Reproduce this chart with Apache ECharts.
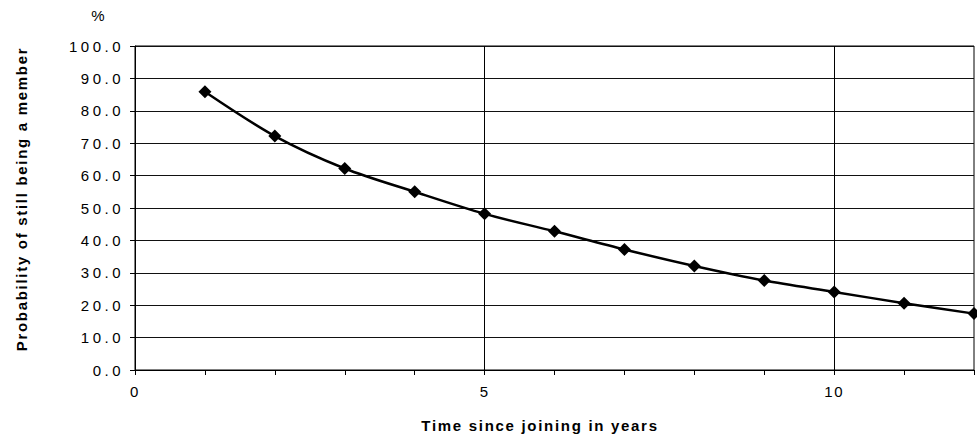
<!DOCTYPE html>
<html>
<head>
<meta charset="utf-8">
<script src="https://cdn.jsdelivr.net/npm/echarts@6/dist/echarts.min.js"></script>
<style>html,body{margin:0;padding:0;background:#fff}#c{width:977px;height:443px}</style>
</head>
<body>
<div id="c"></div>
<script>
const years = [1, 2, 3, 4, 5, 6, 7, 8, 9, 10, 11, 12];
const probability = [85.9, 72.2, 62.2, 55.0, 48.2, 42.8, 37.2, 32.1, 27.6, 24.1, 20.6, 17.4];
const xGridValues = [5, 10];
const xTitle = 'Time since joining in years';
const yTitle = 'Probability of still being a member';
const unitLabel = '%';

const font = 'Arial, "Liberation Sans", sans-serif';
const chart = echarts.init(document.getElementById('c'), null, {renderer: 'svg'});
chart.setOption({
  backgroundColor: '#fff',
  animation: false,
  grid: {left: 135, top: 46, right: 1, bottom: 73, show: true, borderColor: '#000', borderWidth: 1},
  xAxis: {
    type: 'value', min: 0, max: 12, interval: 1,
    axisLine: {show: true, onZero: false, lineStyle: {color: '#000', width: 1}},
    axisTick: {show: true, length: 5, inside: false, lineStyle: {color: '#000'}},
    splitLine: {show: false},
    axisLabel: {
      margin: 14, color: '#000', fontFamily: font, fontSize: 15,
      formatter: v => (v % 5 === 0 ? String(v) : '')
    }
  },
  yAxis: {
    type: 'value', min: 0, max: 100, interval: 10,
    axisLine: {show: true, lineStyle: {color: '#000', width: 1}},
    axisTick: {show: true, length: 5, lineStyle: {color: '#000'}},
    splitLine: {show: true, lineStyle: {color: '#111', width: 1}},
    axisLabel: {margin: 11, color: '#000', fontFamily: font, fontSize: 15, formatter: v => v.toFixed(1)}
  },
  series: [{
    type: 'line',
    data: years.map((y, i) => [y, probability[i]]),
    smooth: 0.3,
    symbol: 'diamond',
    symbolSize: 13,
    itemStyle: {color: '#000'},
    lineStyle: {color: '#000', width: 2.5},
    markLine: {
      silent: true, symbol: 'none', label: {show: false},
      lineStyle: {color: '#000', width: 1, type: 'solid'},
      data: xGridValues.map(v => ({xAxis: v}))
    },
    z: 5
  }],
  graphic: [
    {type: 'text', x: 98, y: 15, style: {text: unitLabel, fontFamily: font, fontSize: 15, fill: '#000', align: 'center', verticalAlign: 'middle'}},
    {type: 'text', x: 540, y: 425, style: {text: xTitle, fontFamily: font, fontSize: 15, fontWeight: 'bold', fill: '#000', align: 'center', verticalAlign: 'middle'}},
    {type: 'text', x: 21, y: 199, rotation: Math.PI / 2, style: {text: yTitle, fontFamily: font, fontSize: 15, fontWeight: 'bold', fill: '#000', align: 'center', verticalAlign: 'middle'}}
  ]
});

function spaceText() {
  document.querySelectorAll('#c svg text').forEach(t => {
    const s = t.textContent;
    if (/^\d+\.\d$/.test(s)) t.style.letterSpacing = '3.5px';
    else if (s === xTitle || s === yTitle) t.style.letterSpacing = '1.7px';
    else if (/^\d+$/.test(s)) t.style.letterSpacing = '1.5px';
  });
}
spaceText();
chart.on('finished', spaceText);
</script>
</body>
</html>
